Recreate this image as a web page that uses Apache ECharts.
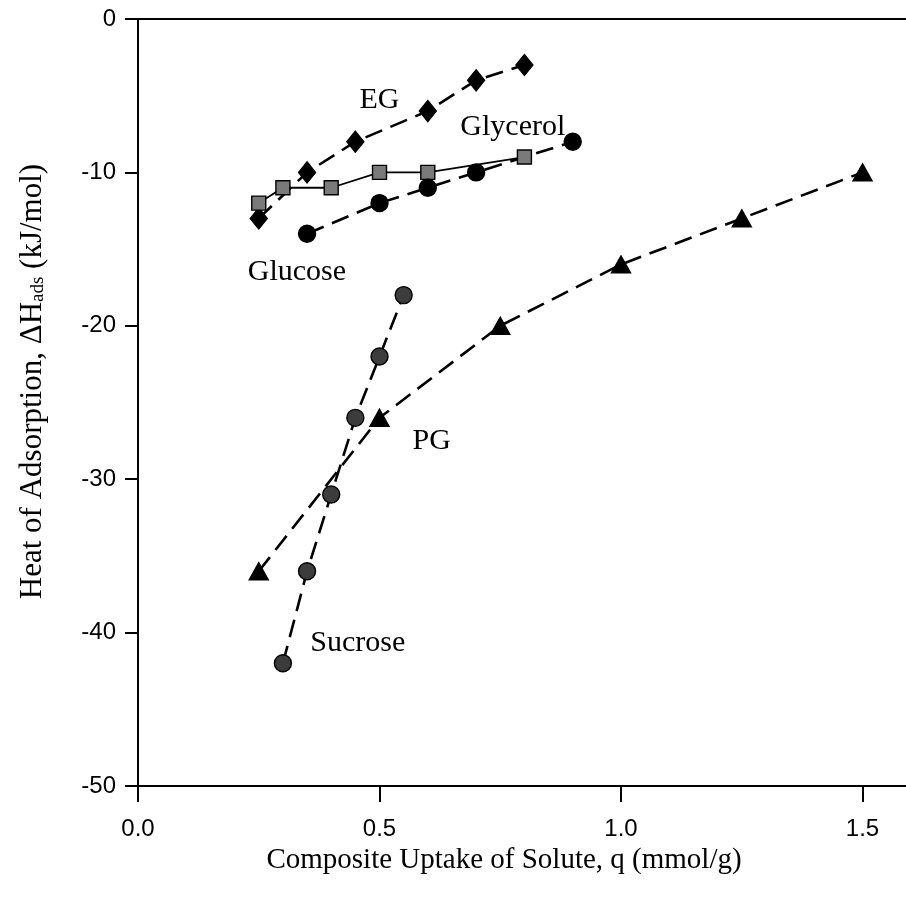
<!DOCTYPE html>
<html>
<head>
<meta charset="utf-8">
<script src="https://cdn.jsdelivr.net/npm/echarts@6/dist/echarts.min.js"></script>
<style>html,body{margin:0;padding:0;background:#fff;}#c{width:906px;height:904px;}</style>
</head>
<body>
<div id="c"></div>
<script>
var egData = [[0.25,-13],[0.35,-10],[0.45,-8],[0.6,-6],[0.7,-4],[0.8,-3]];
var glycerolData = [[0.25,-12],[0.3,-11],[0.4,-11],[0.5,-10],[0.6,-10],[0.8,-9]];
var glucoseData = [[0.35,-14],[0.5,-12],[0.6,-11],[0.7,-10],[0.9,-8]];
var sucroseData = [[0.3,-42],[0.35,-36],[0.4,-31],[0.45,-26],[0.5,-22],[0.55,-18]];
var pgData = [[0.25,-36],[0.5,-26],[0.75,-20],[1.0,-16],[1.25,-13],[1.5,-10]];
var annotations = [
  {name:'EG', value:[0.50,-5.3]},
  {name:'Glycerol', value:[0.776,-7.05]},
  {name:'Glucose', value:[0.329,-16.5]},
  {name:'PG', value:[0.608,-27.5]},
  {name:'Sucrose', value:[0.455,-40.7]}
];
var xTicks = {min:0, max:1.59, interval:0.5};
var yTicks = {min:-50, max:0, interval:10};

var chart = echarts.init(document.getElementById('c'), null, {renderer:'canvas'});
var dash = [18, 9];
function lineSeries(name, data, symbol, size, fill, dashed) {
  return {
    name: name, type: 'line', data: data, symbol: symbol, symbolSize: size,
    showAllSymbol: true,
    lineStyle: {color:'#000', width: dashed ? 2.6 : 1.8, type: dashed ? dash : 'solid'},
    itemStyle: {color: fill, borderColor:'#000', borderWidth: 1.4, opacity: 1},
    z: 3, animation: false
  };
}
var serif = 'Liberation Serif';
chart.setOption({
  animation: false,
  backgroundColor: '#fff',
  grid: {left: 138, right: 0, top: 19, bottom: 118, containLabel: false},
  xAxis: [{
    type: 'value', min: xTicks.min, max: xTicks.max, interval: xTicks.interval,
    name: 'Composite Uptake of Solute, q (mmol/g)', nameLocation: 'middle', nameGap: 56,
    nameTextStyle: {fontFamily: serif, fontSize: 29, color:'#000', padding:[0,36,0,0]},
    axisLine: {show: true, onZero: false, lineStyle: {color:'#000', width: 2}},
    axisTick: {show: true, inside: false, length: 16, lineStyle: {color:'#000', width: 2}},
    axisLabel: {show: true, margin: 31, fontFamily:'Liberation Sans', fontSize: 24, color:'#000',
      showMaxLabel: false,
      formatter: function(v){ return v.toFixed(1); }},
    splitLine: {show: false}
  },{
    type: 'value', position: 'top', min: xTicks.min, max: xTicks.max,
    axisLine: {show: true, onZero: false, lineStyle: {color:'#000', width: 2}},
    axisTick: {show: false}, axisLabel: {show: false}, splitLine: {show: false}
  }],
  yAxis: {
    type: 'value', min: yTicks.min, max: yTicks.max, interval: yTicks.interval,
    name: '{a|Heat of Adsorption, ΔH}{s|ads}{a| (kJ/mol)}', nameLocation: 'middle', nameGap: 90,
    nameRotate: 90,
    nameTextStyle: {padding:[0,0,0,42],
      rich: {
        a: {fontFamily: serif, fontSize: 31, color:'#000'},
        s: {fontFamily: serif, fontSize: 19, color:'#000', padding:[12,0,0,0]}
      }},
    axisLine: {show: true, onZero: false, lineStyle: {color:'#000', width: 2}},
    axisTick: {show: true, inside: false, length: 13, lineStyle: {color:'#000', width: 2}},
    axisLabel: {show: true, margin: 22, fontFamily:'Liberation Sans', fontSize: 24, color:'#000'},
    splitLine: {show: false}
  },
  series: [
    lineSeries('EG', egData, 'diamond', [17,21], '#000', true),
    lineSeries('Glycerol', glycerolData, 'rect', 14, '#7a7a7a', false),
    lineSeries('Glucose', glucoseData, 'circle', 17, '#000', true),
    lineSeries('Sucrose', sucroseData, 'circle', 17, '#3c3c3c', true),
    lineSeries('PG', pgData, 'triangle', [19,17], '#000', true),
    {
      type: 'scatter', data: annotations, symbolSize: 0, z: 5,
      label: {show: true, position: 'inside', formatter: '{b}', fontFamily: serif, fontSize: 30,
        color:'#000', opacity: 1, textBorderWidth: 0},
      itemStyle: {color:'#000', opacity: 1}
    }
  ]
});
</script>
</body>
</html>
